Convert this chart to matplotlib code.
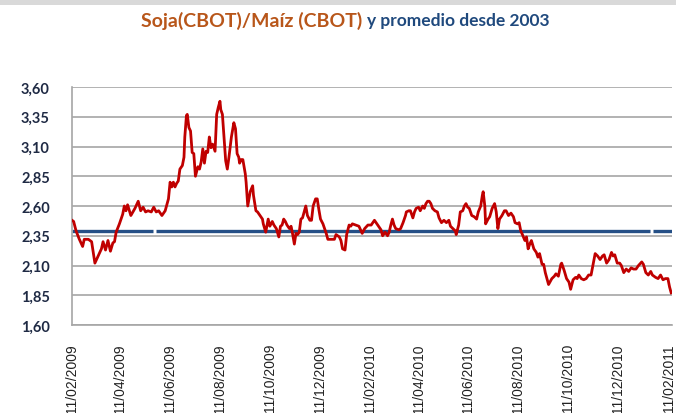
import matplotlib
matplotlib.use("Agg")
import matplotlib.pyplot as plt
import matplotlib.dates as mdates
import numpy as np
import pandas as pd

# Ratio soja/maiz (CBOT): dias desde 11/02/2009 y valor
inicio = pd.Timestamp("2009-02-11")
dias = [0, 2, 5, 9, 13, 15, 20, 24, 28, 32, 36, 38, 41, 44, 47, 50, 52, 54, 58, 62,
        64, 66, 68, 72, 77, 81, 84, 87, 90, 93, 97, 100, 103, 106, 110, 114,
        118, 120, 122, 124, 126, 128, 130, 132, 135, 137, 138, 140, 141, 143, 145, 147,
        149, 151, 154, 156, 158, 160, 162, 164, 166, 168, 170, 172, 175, 177, 179, 181,
        182, 184, 186, 188, 190, 192, 195, 198, 200, 202, 204, 205, 207, 209, 212,
        213, 215, 218, 221, 222, 225, 227, 230, 233, 234, 237, 240, 242, 245, 247, 250,
        253, 255, 257, 259, 261, 263, 266, 268, 270, 272, 274, 276, 278, 280, 282, 284,
        286, 288, 291, 293, 295, 298, 300, 302, 304, 307, 309, 311, 313, 317, 321, 323,
        327, 329, 331, 334, 336, 339, 341, 343, 347,
        351, 355, 358, 362, 366, 370, 374, 378, 380, 383, 386, 388, 390, 392, 394, 396,
        400, 402, 405, 408, 409, 412, 414, 417, 419, 421, 424, 426, 429, 431, 433, 435,
        437, 439, 441, 444, 447, 449, 452, 455, 458, 461, 463, 466, 469, 470, 473, 475,
        478, 480, 482, 484, 486, 489, 492, 495, 497, 500, 502, 503, 505, 506, 509, 511,
        514, 517, 519, 521, 523, 526, 529, 531, 534, 537, 540, 542, 545, 547, 549, 551,
        554, 556, 558, 560, 562, 565, 568, 570, 572, 575, 577, 579, 581, 583, 587, 590,
        592, 595,
        598, 599, 602, 605, 608, 610, 613, 616, 618, 620, 623, 626, 629, 632, 635, 638,
        640, 643, 646, 649, 651, 654, 657, 660, 662, 664, 667, 670, 672, 675, 678, 681,
        684, 687, 690, 693, 697, 699, 702, 705, 708, 710, 714, 717, 720, 723, 726, 729,
        731, 733]
ratio = [2.48, 2.47, 2.39, 2.32, 2.26, 2.32, 2.32, 2.30, 2.12, 2.18, 2.24, 2.30, 2.23, 2.31, 2.22, 2.29, 2.30, 2.38, 2.45, 2.53,
         2.60, 2.56, 2.61, 2.52, 2.58, 2.64, 2.56, 2.59, 2.55, 2.56, 2.55, 2.59, 2.55, 2.56, 2.52, 2.56,
         2.66, 2.80, 2.76, 2.80, 2.76, 2.79, 2.81, 2.91, 2.94, 3.01, 3.18, 3.36, 3.37, 3.26, 3.23, 3.05,
         3.04, 2.85, 2.93, 2.91, 2.97, 3.08, 2.96, 3.06, 3.05, 3.18, 3.09, 3.12, 3.06, 3.37, 3.43, 3.48,
         3.41, 3.37, 3.18, 2.98, 2.91, 3.01, 3.18, 3.30, 3.25, 3.04, 3.01, 2.96, 2.99, 2.99, 2.87,
         2.80, 2.60, 2.72, 2.77, 2.69, 2.56, 2.55, 2.52, 2.49, 2.45, 2.38, 2.49, 2.43, 2.47, 2.44, 2.41,
         2.34, 2.43, 2.44, 2.49, 2.47, 2.44, 2.41, 2.43, 2.36, 2.28, 2.37, 2.36, 2.38, 2.49, 2.50, 2.55,
         2.60, 2.52, 2.48, 2.48, 2.60, 2.66, 2.66, 2.57, 2.49, 2.45, 2.41, 2.37, 2.32, 2.32, 2.32, 2.36,
         2.34, 2.31, 2.24, 2.23, 2.36, 2.44, 2.43, 2.45, 2.44,
         2.43, 2.37, 2.41, 2.44, 2.44, 2.48, 2.44, 2.40, 2.35, 2.38, 2.35, 2.38, 2.44, 2.49, 2.44, 2.41,
         2.40, 2.41, 2.46, 2.52, 2.55, 2.56, 2.56, 2.50, 2.55, 2.58, 2.59, 2.56, 2.60, 2.58, 2.62, 2.64,
         2.64, 2.62, 2.58, 2.56, 2.55, 2.50, 2.46, 2.48, 2.46, 2.48, 2.43, 2.41, 2.39, 2.36, 2.44, 2.55,
         2.56, 2.60, 2.62, 2.59, 2.58, 2.52, 2.51, 2.49, 2.55, 2.60, 2.69, 2.72, 2.60, 2.45, 2.49, 2.51,
         2.58, 2.62, 2.55, 2.41, 2.49, 2.52, 2.56, 2.56, 2.52, 2.54, 2.51, 2.46, 2.45, 2.46, 2.39, 2.36,
         2.31, 2.34, 2.24, 2.28, 2.31, 2.24, 2.21, 2.17, 2.20, 2.11, 2.11, 2.04, 1.99, 1.94, 1.99, 2.01,
         2.03, 2.01,
         2.11, 2.12, 2.06, 1.99, 1.96, 1.90, 1.98, 2.00, 1.99, 2.02, 1.99, 1.98, 1.99, 2.02, 2.02, 2.13,
         2.20, 2.18, 2.15, 2.18, 2.19, 2.12, 2.15, 2.21, 2.18, 2.19, 2.12, 2.12, 2.10, 2.04, 2.07, 2.05,
         2.08, 2.07, 2.07, 2.10, 2.13, 2.11, 2.04, 2.02, 2.05, 2.02, 2.00, 1.99, 2.02, 1.98, 1.99, 1.99,
         1.92, 1.87]

# promedio desde 2003 (linea azul, con dos pequenos cortes)
promedio = 2.39
tramos_promedio = [(0, 99), (103, 707), (711, 734)]

yticks = [1.60, 1.85, 2.10, 2.35, 2.60, 2.85, 3.10, 3.35, 3.60]

fechas = inicio + pd.to_timedelta(dias, unit="D")

fig = plt.figure(figsize=(6.76, 4.14), dpi=100)
fig.patches.append(plt.Rectangle((0, 0.986), 1, 0.014, transform=fig.transFigure,
                                 facecolor="#d9d9d9", edgecolor="none"))
ax = fig.add_axes([72 / 676, 1 - 326 / 414, 600 / 676, 238 / 414])

gris = "#a6a6a6"
for y in yticks:
    ax.axhline(y, color=gris, lw=1.2, zorder=1)

for a, b in tramos_promedio:
    ax.plot([inicio + pd.Timedelta(days=a), inicio + pd.Timedelta(days=b)],
            [promedio, promedio], color="#254f86", lw=2.4, solid_capstyle="butt", zorder=2)

ax.plot(fechas, ratio, color="#c00000", lw=2.0, zorder=3)

ax.set_ylim(1.60, 3.60)
ax.set_xlim(inicio, inicio + pd.Timedelta(days=734))
ax.set_yticks(yticks)
ax.set_yticklabels([f"{v:.2f}".replace(".", ",") for v in yticks],
                   fontsize=10.5, fontweight="bold", color="#1f2a44", family="Lato")

ax.xaxis.set_major_locator(mdates.MonthLocator(bymonth=[2, 4, 6, 8, 10, 12], bymonthday=11))
ax.xaxis.set_major_formatter(mdates.DateFormatter("%d/%m/%Y"))
for lab in ax.get_xticklabels():
    lab.set_rotation(90)
    lab.set_fontsize(10)
    lab.set_family("Liberation Sans")
    lab.set_va("top")
    lab.set_ha("center")

ax.tick_params(axis="y", length=0, pad=16)
ax.tick_params(axis="x", length=0, pad=13, colors="#222222")

for s in ["top", "right"]:
    ax.spines[s].set_visible(False)
for s in ["left", "bottom"]:
    ax.spines[s].set_color(gris)
    ax.spines[s].set_linewidth(1.2)

fig.text(362 / 676, 1 - 21 / 414, "Soja(CBOT)/Maíz (CBOT)", ha="right", va="center",
         fontsize=14, fontweight="bold", color="#b8561a", family="Lato")
fig.text(367 / 676, 1 - 21 / 414, "y promedio desde 2003", ha="left", va="center",
         fontsize=12.5, fontweight="bold", color="#1f497d", family="Lato")

fig.savefig("out.png", dpi=100)
